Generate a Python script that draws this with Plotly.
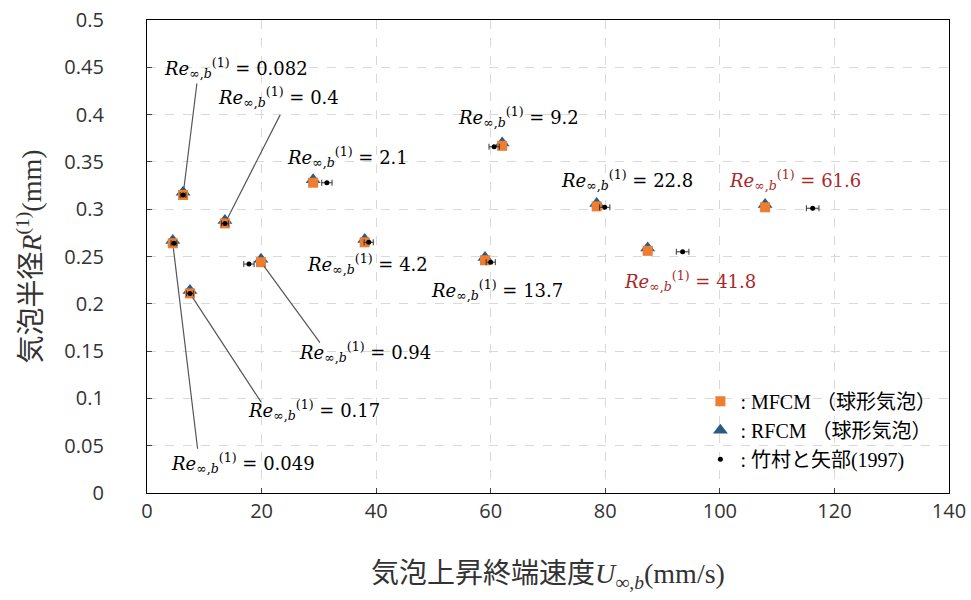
import plotly.graph_objects as go

# ---- data ----
re_labels = ["0.049", "0.082", "0.17", "0.4", "0.94", "2.1", "4.2", "9.2", "13.7", "22.8", "41.8", "61.6"]
mfcm_u = [4.5, 6.3, 7.5, 13.6, 19.9, 29.0, 38.0, 62.0, 59.0, 78.5, 87.4, 107.9]
mfcm_r = [0.264, 0.315, 0.211, 0.285, 0.244, 0.328, 0.265, 0.367, 0.246, 0.303, 0.256, 0.302]
rfcm_u = [4.5, 6.3, 7.5, 13.6, 19.9, 29.0, 38.0, 62.0, 59.0, 78.5, 87.4, 107.9]
rfcm_r = [0.267, 0.318, 0.214, 0.288, 0.247, 0.331, 0.268, 0.370, 0.249, 0.306, 0.259, 0.305]
exp_u = [4.7, 6.3, 7.5, 13.6, 17.8, 31.4, 38.7, 60.6, 60.0, 79.9, 93.5, 116.2]
exp_r = [0.264, 0.315, 0.211, 0.285, 0.242, 0.328, 0.265, 0.366, 0.244, 0.302, 0.255, 0.301]
exp_err = [0.5, 0.5, 0.6, 0.6, 0.9, 0.9, 0.8, 0.9, 0.8, 0.9, 1.1, 1.1]

x_ticks = [0, 20, 40, 60, 80, 100, 120, 140]
y_ticks = [0, 0.05, 0.1, 0.15, 0.2, 0.25, 0.3, 0.35, 0.4, 0.45, 0.5]
y_tick_text = ["0", "0.05", "0.1", "0.15", "0.2", "0.25", "0.3", "0.35", "0.4", "0.45", "0.5"]

# label layout: (text offset px, leader-line end offset px or None, colour)
label_layout = [
    ((70, 220), (25, 207), "black"),
    ((53, -127), (14, -113), "black"),
    ((124, 117), (72, 110), "black"),
    ((54, -126), (56, -110), "black"),
    ((104, 90), (60, 82), "black"),
    ((34, -26), None, "black"),
    ((3, 22), None, "black"),
    ((16, -29), None, "black"),
    ((12, 30), None, "black"),
    ((30, -26), None, "black"),
    ((42, 30), None, "#A8282A"),
    ((30, -27), None, "#A8282A"),
]

ORANGE = "#ED7D31"
BLUE = "#2B5A84"
SERIF = "Liberation Serif, Noto Sans CJK JP"

fig = go.Figure()
fig.add_trace(go.Scatter(
    x=rfcm_u, y=rfcm_r, mode="markers", name=": RFCM （球形気泡）",
    marker=dict(symbol="triangle-up", size=13, color=BLUE), legendrank=2))
fig.add_trace(go.Scatter(
    x=mfcm_u, y=mfcm_r, mode="markers", name=": MFCM （球形気泡）",
    marker=dict(symbol="square", size=10, color=ORANGE), legendrank=1))
fig.add_trace(go.Scatter(
    x=exp_u, y=exp_r, mode="markers", name=": 竹村と矢部(1997)",
    marker=dict(symbol="circle", size=5, color="black"), legendrank=3,
    error_x=dict(type="data", array=exp_err, color="#333", thickness=1, width=3)))

annotations = []
for i, lab in enumerate(re_labels):
    (tx, ty), line, col = label_layout[i]
    if line is not None:
        annotations.append(dict(
            x=mfcm_u[i], y=mfcm_r[i], xref="x", yref="y", text="",
            showarrow=True, arrowhead=0, arrowwidth=1.2, arrowcolor="#555",
            ax=line[0], ay=line[1], standoff=5))
    annotations.append(dict(
        x=mfcm_u[i], y=mfcm_r[i], xref="x", yref="y",
        text="<i>Re</i><sub>∞,<i>b</i></sub><sup>(1)</sup> = " + lab,
        showarrow=False, xshift=tx, yshift=-ty,
        font=dict(family="DejaVu Serif", size=18, color=col)))

fig.update_layout(
    width=971, height=600,
    margin=dict(l=147, r=22, t=20, b=107, autoexpand=False),
    paper_bgcolor="white", plot_bgcolor="white",
    showlegend=True,
    legend=dict(x=0.69, y=0.235, xanchor="left", yanchor="top",
                font=dict(family=SERIF, size=20, color="black"),
                bgcolor="rgba(255,255,255,0)", traceorder="normal",
                itemwidth=30, tracegroupgap=0),
    annotations=annotations,
    xaxis=dict(range=[0, 140], tickvals=x_ticks, ticks="inside", ticklen=5,
               showline=True, linecolor="black", linewidth=1.2, mirror=True,
               showgrid=True, gridcolor="#d9d9d9", griddash="dash", zeroline=False,
               tickfont=dict(family="Open Sans", size=20, color="#333"),
               title=dict(text="気泡上昇終端速度<i>U</i><sub>∞,<i>b</i></sub>(mm/s)",
                          font=dict(family=SERIF, size=28, color="#333"), standoff=40)),
    yaxis=dict(range=[0, 0.5], tickvals=y_ticks, ticktext=y_tick_text, ticks="inside", ticklen=5,
               showline=True, linecolor="black", linewidth=1.2, mirror=True,
               showgrid=True, gridcolor="#d9d9d9", griddash="dash", zeroline=False,
               ticklabelstandoff=38,
               tickfont=dict(family="Open Sans", size=20, color="#333"),
               title=dict(text="気泡半径<i>R</i><sup>(1)</sup>(mm)",
                          font=dict(family=SERIF, size=28, color="#333"), standoff=14)),
)

fig.write_html("out.html", post_script="document.body.style.margin='0';",
               config={"displayModeBar": False})
